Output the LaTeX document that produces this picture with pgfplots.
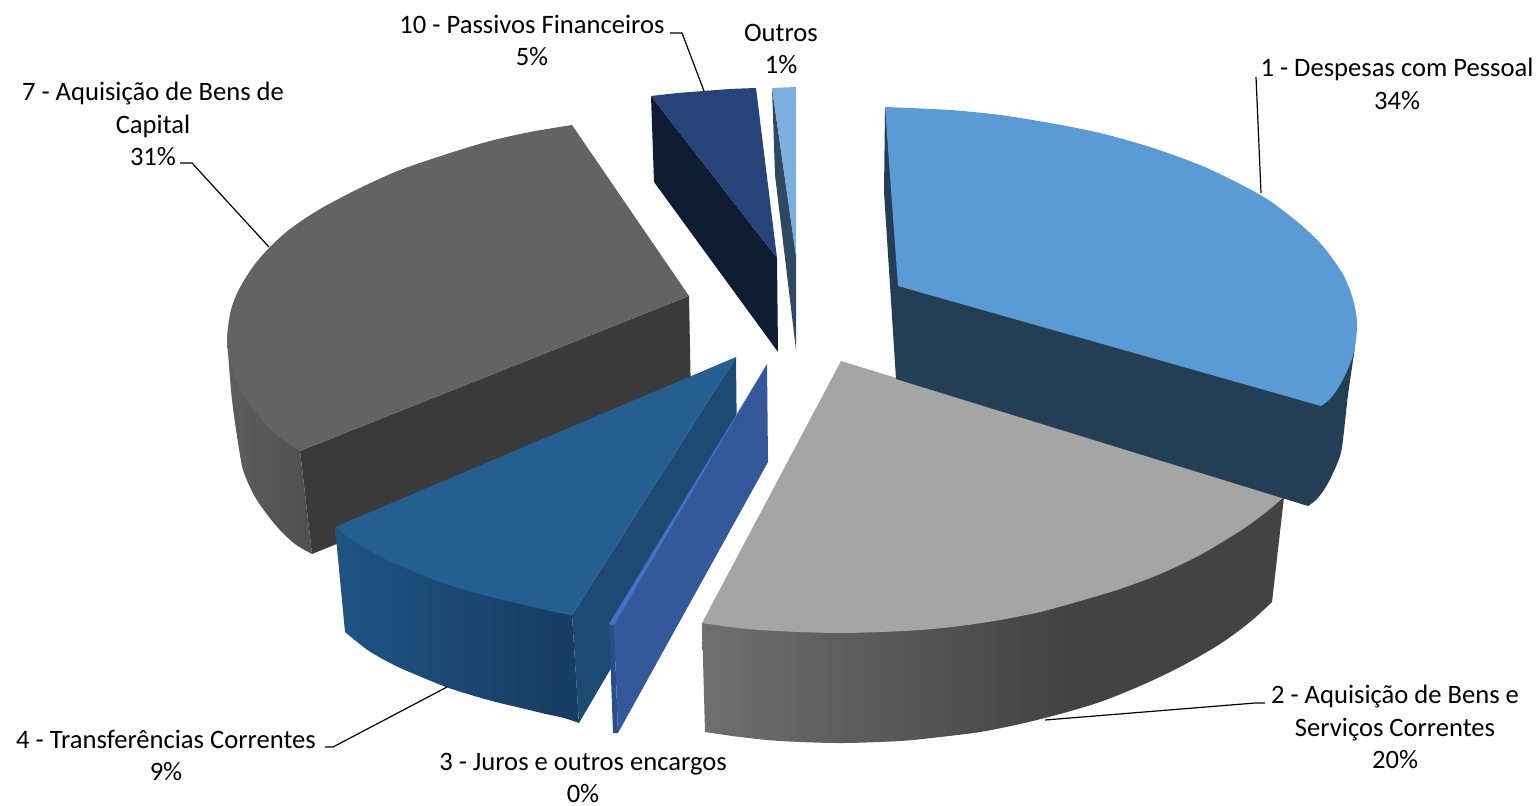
\documentclass[border=0pt]{standalone}
\usepackage{fontspec}
\setmainfont{Carlito}
\usepackage{pgfplots}
\pgfplotsset{compat=1.18}
\definecolor{cA}{HTML}{5B9BD5}\definecolor{cAw}{HTML}{233E55}
\definecolor{cB}{HTML}{A5A5A5}\definecolor{cBl}{HTML}{6F6F6F}\definecolor{cBr}{HTML}{434343}
\definecolor{cC}{HTML}{4472C4}\definecolor{cCw}{HTML}{35589A}\definecolor{cCd}{HTML}{2D4D88}
\definecolor{cD}{HTML}{255E91}\definecolor{cDi}{HTML}{1C4A72}\definecolor{cDl}{HTML}{1F5484}\definecolor{cDr}{HTML}{173D63}
\definecolor{cE}{HTML}{636363}\definecolor{cEi}{HTML}{3A3A3A}\definecolor{cEl}{HTML}{5E5E5E}\definecolor{cEr}{HTML}{4F4F4F}
\definecolor{cF}{HTML}{264478}\definecolor{cFw}{HTML}{0F1D33}
\definecolor{cG}{HTML}{7CAFDD}\definecolor{cGw}{HTML}{2F4A60}
\pgfdeclarehorizontalshading{graywall}{100bp}{color(0bp)=(cBl); color(25bp)=(cBl); color(56bp)=(cBr); color(100bp)=(cBr)}
\pgfdeclarehorizontalshading{bluewall}{100bp}{color(0bp)=(cDl); color(25bp)=(cDl); color(70bp)=(cDr); color(100bp)=(cDr)}
\pgfdeclarehorizontalshading{darkwall}{100bp}{color(0bp)=(cEl); color(25bp)=(cEl); color(75bp)=(cEr); color(100bp)=(cEr)}
\begin{document}
\begin{tikzpicture}[lab/.style={font=\fontsize{13.3}{15}\selectfont,anchor=base,inner sep=0pt,text=black}]
\begin{axis}[scale only axis,width=770pt,height=402.5pt,xmin=0,xmax=1540,ymin=0,ymax=805,y dir=reverse,hide axis,clip=false]
\addplot[draw=none,forget plot] coordinates {(0,0)(1540,805)};
% Outros
\addplot[fill=cGw,draw=none] coordinates {(772,88)(775,175)(796,350)(796,255)} -- cycle;
\addplot[fill=cG,draw=none] coordinates {(772,88)(796,87)(796,257)} -- cycle;
% 10
\addplot[fill=cFw,draw=none] coordinates {(651,96)(654,182)(778,352)(777,258)} -- cycle;
\addplot[smooth,fill=cF,draw=none] coordinates {(651,96)(678,93)(704,91)(730,89)(756,88)} -- (axis cs:777,258) -- cycle;
% 7
\addplot[fill=cEi,draw=none] coordinates {(300,451)(689,296)(691,400)(312,554)} -- cycle;
\addplot[smooth,shade,shading=darkwall,draw=none] coordinates {(227,338)(232,400)(241,461)(246,478)(255,497)(266,513)(279,529)(295,544)(312,554)} -- (axis cs:300,451) -- cycle;
\addplot[smooth,fill=cE,draw=none] coordinates {(572,125)(530,132)(490,141)(450,153)(400,170)(360,188)(320,209)(290,229)(270,247)(255,264)(243,282)(235,298)(230,314)(227,338)(229,358)(234,375)(243,394)(254,410)(267,426)(283,440)(300,451)} -- (axis cs:689,296) -- cycle;
% 4
\addplot[fill=cDi,draw=none] coordinates {(736,357)(737,453)(579,723)(572,615)} -- cycle;
\addplot[smooth,shade,shading=bluewall,draw=none] coordinates {(345,632)(369,651)(396,666)(419,676)(446,687)(471,695)(496,702)(521,708)(546,714)(564,718)(579,723)} -- (axis cs:572,615) -- (axis cs:335,527) -- cycle;
\addplot[smooth,fill=cD,draw=none] coordinates {(335,527)(360,545)(387,560)(410,570)(437,581)(462,589)(487,596)(512,602)(537,608)(555,612)(572,615)} -- (axis cs:736,357) -- cycle;
% 3
\addplot[fill=cCd,draw=none] coordinates {(609,624)(613,733)(618,733)(614,625)} -- cycle;
\addplot[fill=cCw,draw=none] coordinates {(767,364)(768,462)(618,733)(614,625)} -- cycle;
\addplot[fill=cC,draw=none] coordinates {(767,364)(609,624)(614,625)} -- cycle;
% 2
\addplot[smooth,shade,shading=graywall,draw=none] coordinates {(705,732)(740,737)(780,741)(840,743)(900,741)(940,737)(980,732)(1020,724)(1060,714)(1100,702)(1140,686)(1180,667)(1220,644)(1250,622)(1272,602)} -- (axis cs:1284,497) -- (axis cs:702,623) -- cycle;
\addplot[smooth,fill=cB,draw=none] coordinates {(702,623)(730,627)(760,630)(800,632)(840,633)(880,632)(920,630)(960,626)(1000,620)(1040,612)(1080,601)(1120,589)(1160,574)(1200,555)(1240,531)(1265,513)(1284,497)} -- (axis cs:841,361) -- cycle;
% 1
\addplot[smooth,fill=cAw,draw=none] coordinates {(1355,347)(1348,395)(1342,447)(1337,464)(1327,485)(1317,499)(1308,506)} -- (axis cs:896,379) -- (axis cs:884,192) -- (axis cs:885,107) -- (axis cs:1000,250) -- cycle;
\addplot[smooth,fill=cA,draw=none] coordinates {(885,107)(950,110)(1000,115)(1050,123)(1100,133)(1150,147)(1200,165)(1240,184)(1270,201)(1300,224)(1320,243)(1335,262)(1345,278)(1352,296)(1356,313)(1357,327)(1355,347)(1350,364)(1340,385)(1330,399)(1321,406)} -- (axis cs:898,286) -- cycle;
% leaders
\addplot[black,line width=0.6pt] coordinates {(1261,193)(1256,77)};
\addplot[black,line width=0.6pt] coordinates {(1045,720)(1255,703)(1265,703)};
\addplot[black,line width=0.6pt] coordinates {(447,687)(333,747)(325,747)};
\addplot[black,line width=0.6pt] coordinates {(269,247)(192,163)(180,163)};
\addplot[black,line width=0.6pt] coordinates {(704,91)(682,33)(670,33)};
% labels
\node[lab] at (axis cs:532,33) {10 - Passivos Financeiros};
\node[lab] at (axis cs:532,65.5) {5\%};
\node[lab] at (axis cs:781,41) {Outros};
\node[lab] at (axis cs:781,73.5) {1\%};
\node[lab] at (axis cs:1397,76.5) {1 - Despesas com Pessoal};
\node[lab] at (axis cs:1397,109) {34\%};
\node[lab] at (axis cs:153,100) {7 - Aquisição de Bens de};
\node[lab] at (axis cs:153,133) {Capital};
\node[lab] at (axis cs:153,165.5) {31\%};
\node[lab] at (axis cs:166,748) {4 - Transferências Correntes};
\node[lab] at (axis cs:166,780.5) {9\%};
\node[lab] at (axis cs:583,770) {3 - Juros e outros encargos};
\node[lab] at (axis cs:583,802) {0\%};
\node[lab] at (axis cs:1395,703.5) {2 - Aquisição de Bens e};
\node[lab] at (axis cs:1395,736) {Serviços Correntes};
\node[lab] at (axis cs:1395,768.5) {20\%};
\end{axis}
\end{tikzpicture}
\end{document}
